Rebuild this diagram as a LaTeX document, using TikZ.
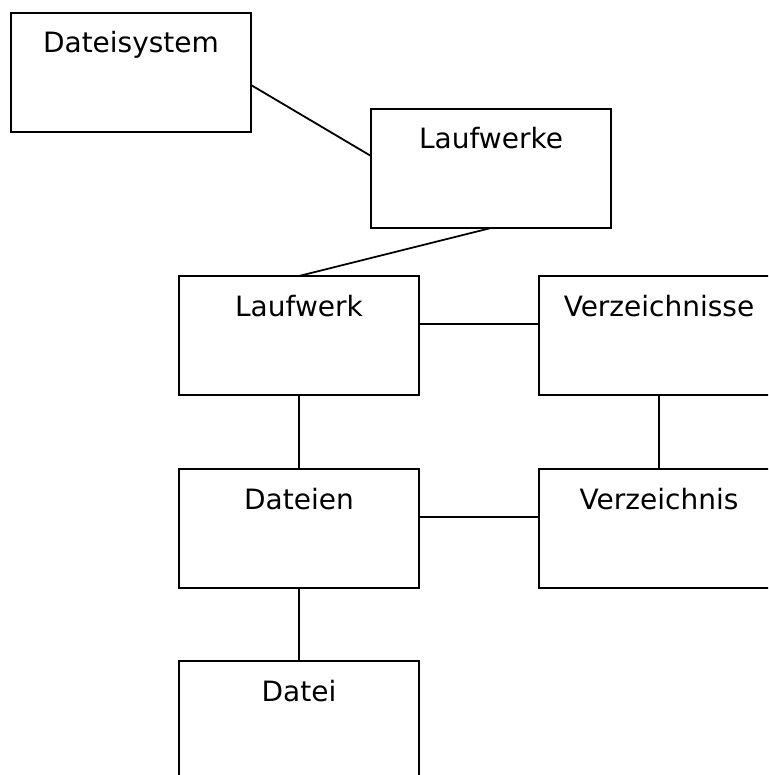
\documentclass[tikz,border=0pt]{standalone}
\usepackage{fontspec}
\setmainfont{DejaVu Sans}
\begin{document}
\begin{tikzpicture}[x=1pt,y=-1pt,
  box/.style={draw=black,line width=1.8pt,rectangle,minimum width=240pt,minimum height=119pt,anchor=north west,inner sep=0pt,outer sep=0pt},
  lbl/.style={font=\fontsize{28}{30}\selectfont,anchor=base,inner sep=0pt},
  conn/.style={draw=black,line width=1.8pt}]
\useasboundingbox (0,0) rectangle (768,775);
\clip (0,0) rectangle (768,775);
\fill[white] (0,0) rectangle (768,775);
\node[box] (ds) at (11,13) {};
\node[box] (lws) at (371,109) {};
\node[box] (lw) at (179,276) {};
\node[box] (vzs) at (539,276) {};
\node[box] (dn) at (179,469) {};
\node[box] (vz) at (539,469) {};
\node[box] (d) at (179,661) {};
\node[lbl] (tds) at ([yshift=-40pt]ds.north) {Dateisystem};
\node[lbl] (tlws) at ([yshift=-40pt]lws.north) {Laufwerke};
\node[lbl] (tlw) at ([yshift=-40pt]lw.north) {Laufwerk};
\node[lbl] (tvzs) at ([yshift=-40pt]vzs.north) {Verzeichnisse};
\node[lbl] (tdn) at ([yshift=-40pt]dn.north) {Dateien};
\node[lbl] (tvz) at ([yshift=-40pt]vz.north) {Verzeichnis};
\node[lbl] (td) at ([yshift=-40pt]d.north) {Datei};
\draw[conn] ([yshift=-12.5pt]ds.east) -- ([yshift=12.5pt]lws.west);
\draw[conn] (lws.south) -- (lw.north);
\draw[conn] ([yshift=11.5pt]lw.east) -- ([yshift=11.5pt]vzs.west);
\draw[conn] (lw.south) -- (dn.north);
\draw[conn] (vzs.south) -- (vz.north);
\draw[conn] ([yshift=11.5pt]dn.east) -- ([yshift=11.5pt]vz.west);
\draw[conn] (dn.south) -- (d.north);
\end{tikzpicture}
\end{document}
